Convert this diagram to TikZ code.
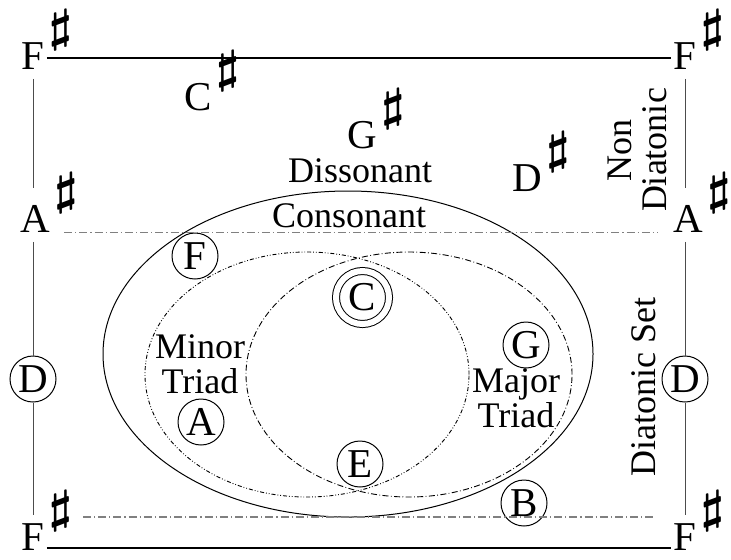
\documentclass[tikz,border=0pt]{standalone}
\usepackage{fontspec}
\setmainfont{Liberation Serif}
\usepackage{graphicx}
\usetikzlibrary{positioning}

% raised sharp sign that takes no room
\newcommand{\shp}{\rlap{\hspace{2pt}\smash{\raisebox{14pt}{\fontsize{20.74}{21}\selectfont\boldmath\scalebox{1.3}[1.1]{$\sharp$}}}}}

\begin{document}
\begin{tikzpicture}[x=0.5pt, y=-0.5pt,
  every node/.style={font=\fontsize{18}{17.5}\selectfont},
  letter/.style={inner sep=1pt, font=\fontsize{20.5}{21}\selectfont},
  note/.style={circle, draw, inner sep=0pt, minimum size=23pt, line width=0.5pt, font=\fontsize{20.5}{21}\selectfont},
  twoline/.style={align=center, inner sep=0pt},
  frame/.style={line width=0.6pt},
  side/.style={line width=0.5pt, black!70},
  border/.style={gray, line width=0.6pt, dash pattern=on 4pt off 1.5pt on 0.6pt off 1.5pt},
  minor/.style={line width=0.45pt, dash pattern=on 2pt off 1pt on 0.4pt off 1pt on 0.4pt off 1pt},
  major/.style={line width=0.45pt, dash pattern=on 3pt off 1.2pt on 0.4pt off 1.2pt}]
\useasboundingbox (0,0) rectangle (731,559);

% corner and side pitches
\node[letter] (fsTL) at (33,56) {F\shp};
\node[letter] (fsTR) at (685,56) {F\shp};
\node[letter] (fsBL) at (33,537) {F\shp};
\node[letter] (fsBR) at (685,537) {F\shp};
\node[letter] (asL) at (35,219) {A\shp};
\node[letter] (asR) at (688,219) {A\shp};
\node[note] (nDL) at (33,379) {D};
\node[note] (nDR) at (685,379) {D};

% non diatonic pitches
\node[letter] (csh) at (198,97) {C\shp};
\node[letter] (gsh) at (362,135) {G\shp};
\node[letter] (dsh) at (527,178) {D\shp};

% regions
\draw[line width=0.5pt] (348,354) ellipse [x radius=122.5pt, y radius=81.5pt];
\draw[minor] (307,374.5) ellipse [x radius=81pt, y radius=61.25pt];
\draw[major] (409,374.5) ellipse [x radius=81.5pt, y radius=61.25pt];

% diatonic pitches
\node[note] (nF) at (195,256) {F};
\node[note, minimum size=26.5pt, double, double distance=3pt] (nC) at (362.5,297.5) {C};
\node[note] (nG) at (526,345) {G};
\node[note] (nA) at (201,422) {A};
\node[note] (nE) at (360,464) {E};
\node[note] (nB) at (524,503) {B};

% labels
\node (dis) at (360,171) {Dissonant};
\node (con) at (349,216) {Consonant};
\node[twoline] (mintri) at (200,364) {Minor\\Triad};
\node[twoline] (majtri) at (516,398) {Major\\Triad};
\node[twoline, rotate=90] (nondia) at (637,150) {Non\\Diatonic};
\node[rotate=90, inner sep=0pt] (diaset) at (644,387) {Diatonic Set};

% frame
\draw[frame] ([yshift=-1pt]fsTL.east) -- ([yshift=-1pt]fsTR.west);
\draw[frame] ([yshift=-5.5pt]fsBL.east) -- ([yshift=-5.5pt]fsBR.west);
\draw[side, shorten <=3.5pt, shorten >=7.5pt] (fsTL) -- (fsTL |- asL.north);
\draw[side, shorten <=3.5pt] (fsTL |- asL.south) -- (nDL);
\draw[side, shorten >=3pt] (nDL) -- (fsBL);
\draw[side, shorten <=3.5pt, shorten >=7.5pt] (fsTR) -- (fsTR |- asR.north);
\draw[side, shorten <=3.5pt] (fsTR |- asR.south) -- (nDR);
\draw[side, shorten >=3pt] (nDR) -- (fsBR);

% diatonic set border
\coordinate (dsL) at (83,517);
\coordinate (dsR) at (655,517);
\draw[border, shorten <=6pt, shorten >=6.5pt] (asL.base east) -- (asR.base west);
\draw[border] (dsL) -- (dsR);
\end{tikzpicture}
\end{document}
